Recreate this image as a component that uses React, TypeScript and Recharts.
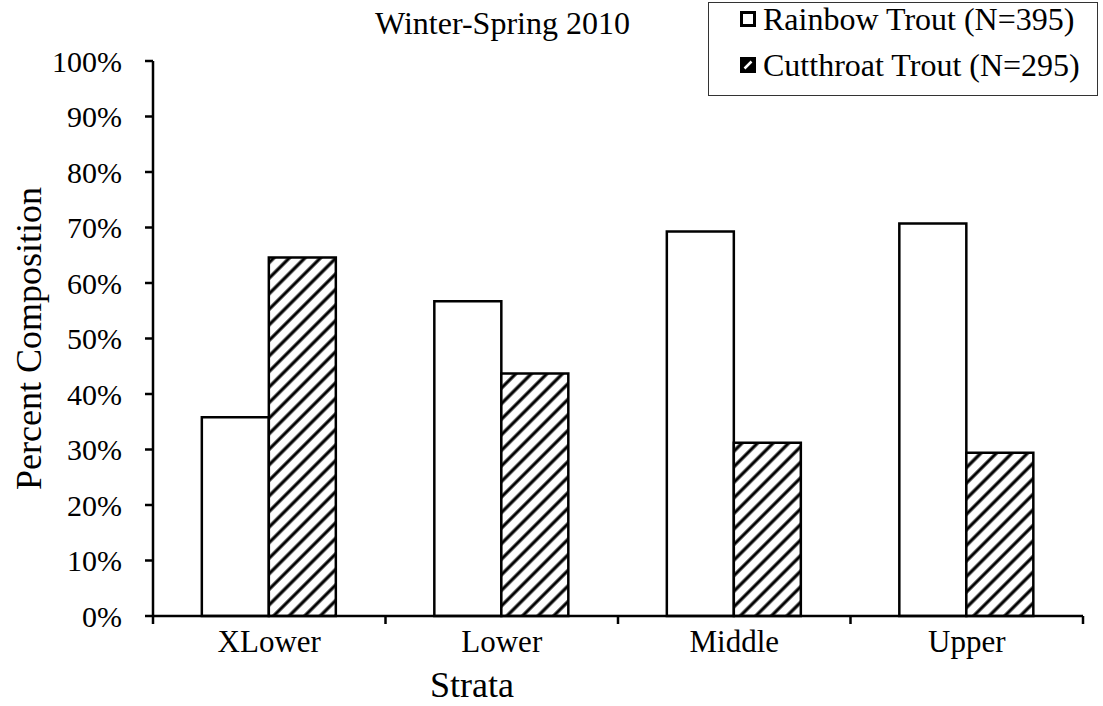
import React from 'react';
import { BarChart, Bar, XAxis, YAxis, Legend } from 'recharts';

const strata = ['XLower', 'Lower', 'Middle', 'Upper'];
const rainbowShare = [0.358, 0.567, 0.693, 0.707];
const cutthroatShare = [0.646, 0.437, 0.312, 0.294];
const yTicks = [0, 0.1, 0.2, 0.3, 0.4, 0.5, 0.6, 0.7, 0.8, 0.9, 1];
const seriesNames = ['Rainbow Trout (N=395)', 'Cutthroat Trout (N=295)'];
const chartTitle = 'Winter-Spring 2010';
const xTitle = 'Strata';
const yTitle = 'Percent Composition';

const data = strata.map((s, i) => ({ stratum: s, rainbow: rainbowShare[i], cutthroat: cutthroatShare[i] }));

const W = 1103;
const H = 706;
const MARGIN = { top: 61, right: 20, bottom: 0, left: 0 };
const YAXIS_W = 153;
const XAXIS_H = 90;
const BAND = (W - MARGIN.left - YAXIS_W - MARGIN.right) / strata.length;
const FONT = '"Liberation Serif", "Times New Roman", serif';
const TICK_SIZE = 8;
const TICK_MARGIN = 2;

function XTick(props: any) {
  const { x, y, payload } = props;
  const axisY = y - TICK_SIZE - TICK_MARGIN;
  const isLast = payload.value === strata[strata.length - 1];
  return (
    <g>
      <line x1={x - BAND / 2} x2={x - BAND / 2} y1={axisY} y2={axisY + TICK_SIZE} stroke="#000" strokeWidth={2.5} />
      {isLast && (
        <line x1={x + BAND / 2} x2={x + BAND / 2} y1={axisY} y2={axisY + TICK_SIZE} stroke="#000" strokeWidth={2.5} />
      )}
      <text x={x} y={y} dy={26} textAnchor="middle" fontSize={31} fill="#000" fontFamily={FONT}>
        {payload.value}
      </text>
    </g>
  );
}

function LegendBox() {
  return (
    <div
      style={{
        position: 'relative',
        boxSizing: 'border-box',
        width: 390,
        height: 94,
        border: '1.5px solid #333',
        background: '#fff',
        fontFamily: FONT,
        fontSize: 32,
        color: '#000',
      }}
    >
      {seriesNames.map((name, i) => (
        <div
          key={name}
          style={{
            position: 'absolute',
            left: 31,
            top: i === 0 ? -3 : 43,
            display: 'flex',
            alignItems: 'center',
            lineHeight: '38px',
            whiteSpace: 'nowrap',
          }}
        >
          <svg width={16} height={16} style={{ marginRight: 7 }}>
            {i === 0 ? (
              <rect x={1.5} y={1.5} width={13} height={13} fill="#fff" stroke="#000" strokeWidth={3} />
            ) : (
              <g>
                <rect x={0} y={0} width={16} height={16} fill="#000" />
                <line x1={4.5} y1={11.5} x2={11.5} y2={4.5} stroke="#fff" strokeWidth={2.5} />
              </g>
            )}
          </svg>
          <span>{name}</span>
        </div>
      ))}
    </div>
  );
}

export default function App() {
  return (
    <div style={{ position: 'absolute', left: 0, top: 0, width: W, height: H, background: '#fff', fontFamily: FONT }}>
      <BarChart
        width={W}
        height={H}
        data={data}
        margin={MARGIN}
        barCategoryGap="21%"
        barGap={0}
        style={{ fontFamily: FONT }}
      >
        <defs>
          <pattern id="hatch" patternUnits="userSpaceOnUse" width={11} height={11} patternTransform="rotate(45)">
            <rect x={0} y={0} width={11} height={11} fill="#fff" />
            <line x1={2} y1={0} x2={2} y2={11} stroke="#000" strokeWidth={3.2} />
          </pattern>
        </defs>
        <XAxis
          dataKey="stratum"
          height={XAXIS_H}
          tick={<XTick />}
          tickLine={false}
          tickSize={TICK_SIZE}
          tickMargin={TICK_MARGIN}
          axisLine={{ stroke: '#000', strokeWidth: 2.5 }}
          interval={0}
          label={{ value: xTitle, position: 'insideBottom', offset: 9, dx: -146, fontSize: 36, fill: '#000', fontFamily: FONT }}
        />
        <YAxis
          width={YAXIS_W}
          domain={[0, 1]}
          ticks={yTicks}
          interval={0}
          tickFormatter={(v: number) => `${Math.round(v * 100)}%`}
          tick={{ fontSize: 30, fill: '#000', fontFamily: FONT }}
          tickLine={{ stroke: '#000', strokeWidth: 2.5 }}
          tickSize={TICK_SIZE}
          tickMargin={23}
          axisLine={{ stroke: '#000', strokeWidth: 2.5 }}
          label={{
            value: yTitle,
            angle: -90,
            position: 'insideLeft',
            offset: 28,
            fontSize: 36,
            fill: '#000',
            fontFamily: FONT,
            style: { textAnchor: 'middle' },
          }}
        />
        <Legend
          layout="horizontal"
          verticalAlign="middle"
          align="center"
          wrapperStyle={{ position: 'absolute', left: 708, top: 2, width: 390, height: 94 }}
          content={() => <LegendBox />}
        />
        <Bar
          dataKey="rainbow"
          name={seriesNames[0]}
          fill="#fff"
          stroke="#000"
          strokeWidth={2.5}
          isAnimationActive={false}
        />
        <Bar
          dataKey="cutthroat"
          name={seriesNames[1]}
          fill="url(#hatch)"
          stroke="#000"
          strokeWidth={2.5}
          isAnimationActive={false}
        />
      </BarChart>
      <div
        style={{
          position: 'absolute',
          left: 375,
          top: 5,
          fontSize: 32,
          lineHeight: '36px',
          color: '#000',
          fontFamily: FONT,
          whiteSpace: 'nowrap',
        }}
      >
        {chartTitle}
      </div>
    </div>
  );
}
